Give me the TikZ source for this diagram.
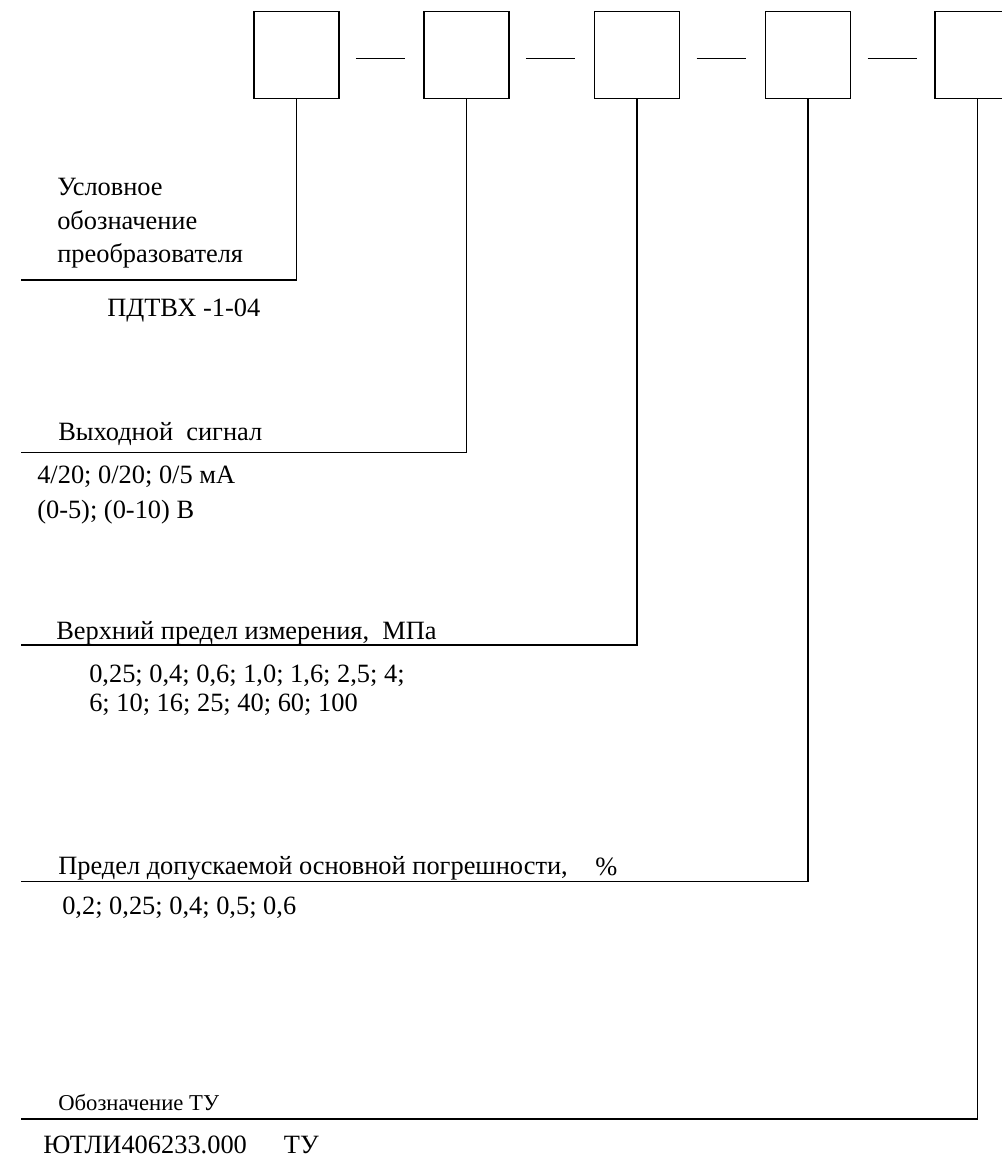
\documentclass[tikz,border=0pt]{standalone}
\usepackage{fontspec}
\setmainfont{Liberation Serif}
\begin{document}
\begin{tikzpicture}[x=0.75pt,y=-0.75pt,
  codebox/.style={draw,line width=1.1pt,minimum width=63.75pt,minimum height=65pt,inner sep=0pt,outer sep=0pt},
  leader/.style={line width=1.1pt},
  sep/.style={line width=0.9pt},
  lbl/.style={anchor=base west,inner sep=0pt,font=\fontsize{19.8}{24}\selectfont},
  lblsmall/.style={anchor=base west,inner sep=0pt,font=\fontsize{17}{20}\selectfont}]
\useasboundingbox (0,0) rectangle (1002,1158);
\clip (0,0) rectangle (1002,1158);
% boxes
\node[codebox] (b1) at (296.4,55) {};
\node[codebox] (b2) at (466.4,55) {};
\node[codebox] (b3) at (637,55) {};
\node[codebox] (b4) at (808,55) {};
\node[codebox] (b5) at (977.7,55) {};
% dashes between boxes
\draw[sep] ([xshift=12.75pt]b1.east |- 0,58.3) -- ++(49,0);
\draw[sep] ([xshift=12.75pt]b2.east |- 0,58.3) -- ++(49,0);
\draw[sep] ([xshift=12.75pt]b3.east |- 0,58.3) -- ++(49,0);
\draw[sep] ([xshift=12.75pt]b4.east |- 0,58.3) -- ++(49,0);
% leader ends
\coordinate (h1) at (21,280);
\coordinate (h2) at (21,452.3);
\coordinate (h3) at (21,645);
\coordinate (h4) at (21,881.7);
\coordinate (h5) at (21,1119);
\draw[leader] (b1.south) |- (h1);
\draw[leader] (b2.south) |- (h2);
\draw[leader] (b3.south) |- (h3);
\draw[leader] (b4.south) |- (h4);
\draw[leader] (b5.south) |- (h5);
% texts
\node[lbl] (t1a) at (57,195) {Условное};
\node[lbl] (t1b) at (57,229) {обозначение};
\node[lbl] (t1c) at (57,262) {преобразователя};
\node[lbl] (v1) at (107,316) {ПДТВХ -1-04};
\node[lbl] (t2) at (58,440) {Выходной\ \ сигнал};
\node[lbl] (v2a) at (37,483) {4/20; 0/20; 0/5 мА};
\node[lbl] (v2b) at (37,518) {(0-5); (0-10) В};
\node[lbl] (t3) at (56,639) {Верхний предел измерения,\ \ МПа};
\node[lbl] (v3a) at (89,682) {0,25; 0,4; 0,6; 1,0; 1,6; 2,5; 4;};
\node[lbl] (v3b) at (89,711) {6; 10; 16; 25; 40; 60; 100};
\node[lbl] (t4) at (58,874) {Предел допускаемой основной погрешности,};
\node[lbl] (t4p) at (595,875) {\%};
\node[lbl] (v4) at (62,914) {0,2; 0,25; 0,4; 0,5; 0,6};
\node[lblsmall] (t5) at (58,1110) {Обозначение ТУ};
\node[lbl] (v5) at (43,1153) {ЮТЛИ406233.000\hspace{1.4em}ТУ};
\end{tikzpicture}
\end{document}
